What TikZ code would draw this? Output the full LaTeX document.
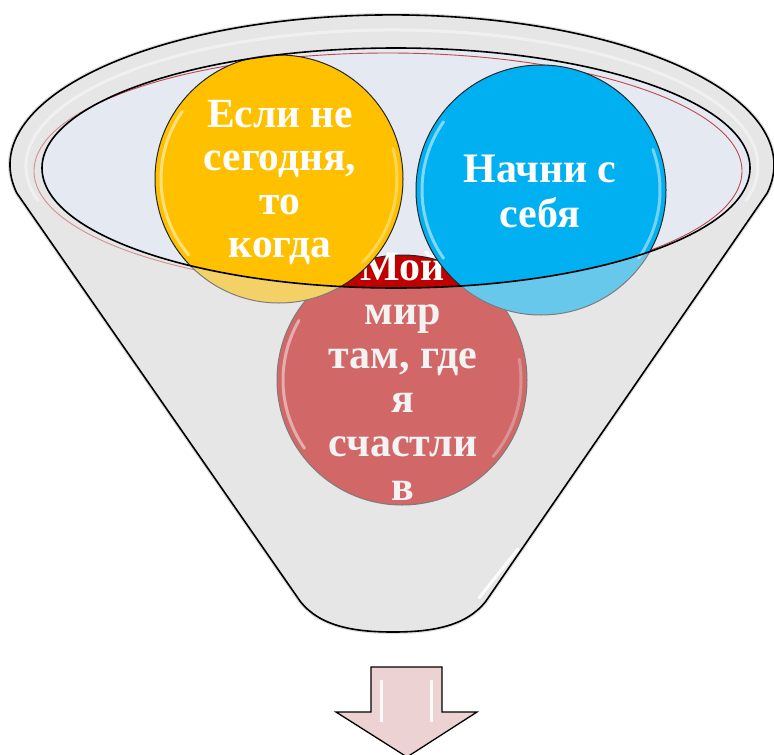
\documentclass[tikz,border=0pt]{standalone}
\usepackage{fontspec}
\setmainfont{Liberation Serif}
\definecolor{funnelgray}{HTML}{E6E6E6}
\definecolor{innerblue}{HTML}{E4E9F2}
\definecolor{cyel}{HTML}{FFC000}
\definecolor{cblue}{HTML}{00B0F0}
\definecolor{cred}{HTML}{C00000}
\definecolor{arrowpink}{HTML}{ECD2D2}
\definecolor{rimred}{HTML}{C04848}
\tikzset{
  circtext/.style={anchor=base, inner sep=0pt, text=white, font=\bfseries},
  ball/.style={draw=black!85, line width=1pt},
  gloss/.style={white, opacity=0.5, line width=3pt, line cap=round},
  funnelline/.style={draw=black, line width=1.6pt, line join=round},
}
\def\funnelpath{(16.8,-193) arc[start angle=190.8, end angle=-10.8, x radius=382, y radius=150] -- (486,-601) .. controls (466,-627) and (430,-632) .. (393,-632) .. controls (356,-632) and (320,-627) .. (300,-601) -- cycle}
\begin{document}
\begin{tikzpicture}[x=1pt,y=1pt]
\useasboundingbox (0,-755) rectangle (774,0);
% funnel body
\draw[black!25, line width=4pt, opacity=0.5] \funnelpath;
\fill[funnelgray] \funnelpath;
% rim sheen
\draw[white, line width=3pt, opacity=0.8] (392,-166) ++(195:366 and 136) arc[start angle=195, end angle=-15, x radius=366, y radius=136];
% opening
\fill[innerblue] (396,-168) ellipse[x radius=354, y radius=120];
\draw[rimred, line width=0.9pt] (388,-171) ellipse[x radius=354, y radius=118];
% red ball
\fill[cred] (402,-380) circle[radius=125];
\draw[ball] (402,-380) circle[radius=125];
\draw[gloss] (402,-380) ++(150:119) arc[start angle=150, end angle=215, radius=119];
\draw[gloss, opacity=0.3] (402,-380) ++(-40:119) arc[start angle=-40, end angle=10, radius=119];
\node[circtext] (t3) at (403,-280) {\fontsize{42}{44}\selectfont\begin{tabular}[t]{@{}c@{}}Мой\\мир\\там, где\\я\\счастли\\в\end{tabular}};
% yellow ball
\fill[cyel] (279,-179) circle[radius=124];
\draw[ball] (279,-179) circle[radius=124];
\draw[gloss] (279,-179) ++(145:118) arc[start angle=145, end angle=220, radius=118];
\draw[gloss, opacity=0.35] (279,-179) ++(-45:118) arc[start angle=-45, end angle=15, radius=118];
\node[circtext] (t1) at (280,-127) {\fontsize{41.5}{43.5}\selectfont\begin{tabular}[t]{@{}c@{}}Если не\\сегодня,\\то\\когда\end{tabular}};
% blue ball
\fill[cblue] (541,-190) circle[radius=125];
\draw[ball] (541,-190) circle[radius=125];
\draw[gloss] (541,-190) ++(145:119) arc[start angle=145, end angle=215, radius=119];
\draw[gloss, opacity=0.45] (541,-190) ++(-35:119) arc[start angle=-35, end angle=20, radius=119];
\node[circtext] (t2) at (540,-182) {\fontsize{42}{45}\selectfont\begin{tabular}[t]{@{}c@{}}Начни с\\себя\end{tabular}};
% front of funnel (semi-transparent)
\fill[funnelgray, opacity=0.45, even odd rule] \funnelpath (396,-168) ellipse[x radius=354, y radius=120];
% outlines
\draw[black, line width=1.6pt] (396,-168) ellipse[x radius=354, y radius=120];
\draw[funnelline] \funnelpath;
\draw[white, line width=3pt, line cap=round, opacity=0.9] (518,-549) -- (479,-598);
% arrow
\draw[fill=arrowpink, draw=black, line width=1.3pt, line join=miter]
  (371,-667) -- (442,-667) -- (442,-712) -- (477,-712) -- (407,-757) -- (336,-712) -- (371,-712) -- cycle;
\draw[white, line width=3pt, opacity=0.9] (381,-680) -- (381,-722);
\draw[white, line width=3pt, opacity=0.9] (431,-680) -- (431,-722);
\end{tikzpicture}
\end{document}
